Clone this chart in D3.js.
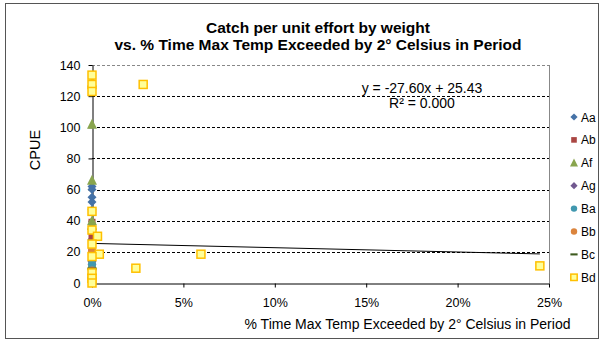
<!DOCTYPE html>
<html><head><meta charset="utf-8">
<script src="https://cdn.jsdelivr.net/npm/d3@7"></script>
<style>body{margin:0;background:#fff}svg{display:block;font-family:"Liberation Sans",Arial,sans-serif}</style>
</head><body><svg id="c" width="605" height="343"></svg>
<script>
const seriesNames = ["Aa","Ab","Af","Ag","Ba","Bb","Bc","Bd"];
const seriesColors = ["#4572A7","#AA4643","#89A54E","#71588F","#4198AF","#DB843D","#3D5A1F","#FFC000"];
const seriesShapes = ["diamond","square","triangle","diamond","circle","circle","dash","squareOpen"];
// [x (fraction), CPUE]
const dataAa = [[0,62],[0,60],[0,55],[0,52],[0,47],[0,35],[0,28]];
const dataAb = [[0,39],[0,30],[0,20],[0,15],[0,10]];
const dataAf = [[0,129],[0,102],[0,66],[0,40],[0,37],[0,12],[0,8]];
const dataAg = [[0,14],[0,12],[0,9]];
const dataBa = [[0,12],[0,6]];
const dataBb = [[0,21],[0,8],[0,4]];
const dataBc = [[0,9],[0,3]];
const dataBd = [[0,133.5],[0,127.5],[0,123],[0.028,127.5],[0,46],[0,34],[0.003,30],[0,25],[0.004,18.5],[0,17],[0.024,9.5],[0.0596,18.5],[0.245,11],[0,6.5],[0,3],[0,0]];
const allData = [dataAa,dataAb,dataAf,dataAg,dataBa,dataBb,dataBc,dataBd];
const yTicks = [0,20,40,60,80,100,120,140];
const xTicks = [0,0.05,0.10,0.15,0.20,0.25];
const trendSlope = -27.60, trendIntercept = 25.43, trendRange = [0, 0.245];
const titleLines = ["Catch per unit effort by weight","vs. % Time Max Temp Exceeded by 2\u00B0 Celsius in Period"];
const eqText = ["y = -27.60x + 25.43","R\u00B2 = 0.000"];

const svg = d3.select("#c");
svg.append("rect").attr("x",5.5).attr("y",3.5).attr("width",593).attr("height",335).attr("fill","#fff").attr("stroke","#555").attr("stroke-width",1);

const L=92,R=549,T=65,B=283;
const x = d3.scaleLinear().domain([0,0.25]).range([L,R]);
const y = d3.scaleLinear().domain([0,140]).range([B,T]);

svg.append("line").attr("x1",R+0.5).attr("x2",R+0.5).attr("y1",T).attr("y2",B).attr("stroke","#888");
svg.append("g").selectAll("line").data(yTicks.filter(d=>d>0)).join("line")
  .attr("x1",L).attr("x2",R).attr("y1",d=>Math.round(y(d))+0.5).attr("y2",d=>Math.round(y(d))+0.5)
  .attr("stroke",d=>d===140?"#888":"#000").attr("stroke-dasharray","3,2").attr("stroke-width",1);

const xAxis = svg.append("g").attr("transform",`translate(0,${B+0.5})`)
  .call(d3.axisBottom(x).tickValues(xTicks).tickFormat(d3.format(".0%")).tickSizeOuter(0).tickSizeInner(4).tickPadding(11));
const yAxis = svg.append("g").attr("transform",`translate(${L+0.5},0)`)
  .call(d3.axisLeft(y).tickValues(yTicks).tickSizeOuter(0).tickSizeInner(4).tickPadding(8));
[xAxis,yAxis].forEach(g=>{g.selectAll("path,line").attr("stroke","#000");g.selectAll("text").attr("font-size",12.5).attr("fill","#000").attr("font-family","Liberation Sans, Arial, sans-serif");});

svg.append("line").attr("x1",x(trendRange[0])).attr("x2",x(trendRange[1]))
  .attr("y1",y(trendIntercept+trendSlope*trendRange[0])).attr("y2",y(trendIntercept+trendSlope*trendRange[1]))
  .attr("stroke","#000").attr("stroke-width",1);

function drawMarker(g, shape, color, k){
  if(shape==="diamond") g.append("path").attr("d",`M0,${-4.5*k}L${4.5*k},0L0,${4.5*k}L${-4.5*k},0Z`).attr("fill",color);
  else if(shape==="square") g.append("rect").attr("x",-3.5*k).attr("y",-3.5*k).attr("width",7*k).attr("height",7*k).attr("fill",color);
  else if(shape==="triangle") g.append("path").attr("d",`M0,${-5.5*k}L${5*k},${4.5*k}L${-5*k},${4.5*k}Z`).attr("fill",color);
  else if(shape==="circle") g.append("circle").attr("r",4*k).attr("fill",color);
  else if(shape==="dash") g.append("rect").attr("x",-4.5*k).attr("y",-1.3*k).attr("width",9*k).attr("height",2.6*k).attr("fill",color);
  else if(shape==="squareOpen") g.append("rect").attr("x",-4*k).attr("y",-4*k).attr("width",8*k).attr("height",8*k).attr("fill","#FFFF99").attr("stroke",color).attr("stroke-width",1.5);
}

allData.forEach((arr,i)=>{
  const g = svg.append("g");
  arr.forEach(d=>{
    const m = g.append("g").attr("transform",`translate(${x(d[0])},${y(d[1])})`);
    drawMarker(m, seriesShapes[i], seriesColors[i], 1);
  });
});

svg.append("g").selectAll("text").data(eqText).join("text")
  .attr("x",422).attr("y",(d,i)=>93+i*15).attr("text-anchor","middle").attr("font-size",14).attr("fill","#000").text(d=>d);

svg.append("g").selectAll("text").data(titleLines).join("text")
  .attr("x",318).attr("y",(d,i)=>33+i*17).attr("text-anchor","middle").attr("font-size",15.5).attr("font-weight","bold").attr("fill","#000").text(d=>d);

svg.append("text").attr("transform","translate(40,150) rotate(-90)").attr("text-anchor","middle").attr("font-size",14.5).text("CPUE");
svg.append("text").attr("x",407.5).attr("y",329).attr("text-anchor","middle").attr("font-size",14).text("% Time Max Temp Exceeded by 2\u00B0 Celsius in Period");

const lg = svg.append("g").selectAll("g").data(seriesNames).join("g")
  .attr("transform",(d,i)=>`translate(574,${117+i*22.9})`);
lg.each(function(d,i){ drawMarker(d3.select(this), seriesShapes[i], seriesColors[i], 0.8); });
lg.append("text").attr("x",7).attr("y",4.5).attr("font-size",12).text(d=>d);
</script></body></html>
